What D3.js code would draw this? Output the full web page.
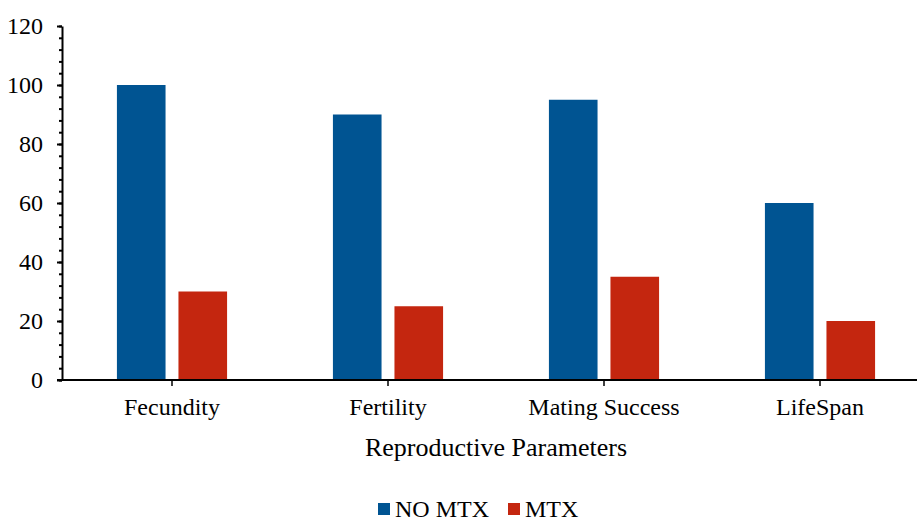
<!DOCTYPE html>
<html>
<head>
<meta charset="utf-8">
<script src="https://cdn.jsdelivr.net/npm/d3@7"></script>
<style>
  body { margin: 0; background: #fff; }
  svg text { font-family: "Liberation Serif", "Times New Roman", serif; fill: #000; }
</style>
</head>
<body>
<svg id="chart" width="917" height="523"></svg>
<script>
// chart data
var categories = ["Fecundity", "Fertility", "Mating Success", "LifeSpan"];
var seriesNames = ["NO MTX", "MTX"];
var noMtx = [100, 90, 95, 60];
var mtx = [30, 25, 35, 20];
var yTicks = [0, 20, 40, 60, 80, 100, 120];

var colors = ["#005492", "#c4260f"];

var svg = d3.select("#chart");
var plotL = 62, plotR = 928, plotT = 26, plotB = 380;

var x0 = d3.scaleBand()
  .domain(categories)
  .range([plotL + 2, plotR])
  .paddingInner(0.49)
  .paddingOuter(0.245);

var x1 = d3.scaleBand()
  .domain(seriesNames)
  .range([0, x0.bandwidth()])
  .paddingInner(0.21);

var y = d3.scaleLinear().domain([0, 120]).range([plotB, plotT]);

var rows = categories.map(function(c, i) {
  return { cat: c, values: [noMtx[i], mtx[i]] };
});

// bars
var groups = svg.selectAll("g.grp")
  .data(rows)
  .enter().append("g")
  .attr("class", "grp")
  .attr("transform", function(d) { return "translate(" + x0(d.cat) + ",0)"; });

groups.selectAll("rect")
  .data(function(d) { return d.values.map(function(v, j) { return { s: seriesNames[j], v: v, j: j }; }); })
  .enter().append("rect")
  .attr("x", function(d) { return x1(d.s); })
  .attr("y", function(d) { return y(d.v); })
  .attr("width", x1.bandwidth())
  .attr("height", function(d) { return plotB - y(d.v); })
  .attr("fill", function(d) { return colors[d.j]; });

// y axis minor ticks
var yMinor = d3.axisLeft(y)
  .tickValues(d3.range(0, 121, 4))
  .tickSize(3)
  .tickFormat("");
svg.append("g")
  .attr("transform", "translate(" + plotL + ",0)")
  .call(yMinor)
  .call(function(g) { g.select(".domain").remove(); })
  .selectAll("line").attr("stroke", "#000").attr("stroke-width", 2);

// y axis major
var yAxis = d3.axisLeft(y)
  .tickValues(yTicks)
  .tickSize(5)
  .tickSizeOuter(0)
  .tickPadding(14);
var yg = svg.append("g")
  .attr("transform", "translate(" + plotL + ",0)")
  .call(yAxis);
yg.select(".domain").attr("stroke", "#000").attr("stroke-width", 2);
yg.selectAll("line").attr("stroke", "#000").attr("stroke-width", 2);
yg.selectAll("text").style("font-size", "24px");

// x axis
var xAxis = d3.axisBottom(x0).tickSize(6).tickSizeOuter(0).tickPadding(12);
var xg = svg.append("g")
  .attr("transform", "translate(0," + plotB + ")")
  .call(xAxis);
xg.select(".domain").attr("stroke", "#000").attr("stroke-width", 2)
  .attr("d", "M" + (plotL - 5) + ",0H" + plotR);
xg.selectAll("line").attr("stroke", "#000").attr("stroke-width", 1.5);
xg.selectAll("text").style("font-size", "24px");

// axis title
svg.append("text")
  .attr("x", 496)
  .attr("y", 456)
  .attr("text-anchor", "middle")
  .style("font-size", "26px")
  .text("Reproductive Parameters");

// legend
var legend = svg.append("g").attr("transform", "translate(378,509)");
var lx = [0, 130];
seriesNames.forEach(function(s, i) {
  legend.append("rect")
    .attr("x", lx[i]).attr("y", -6)
    .attr("width", 12).attr("height", 12)
    .attr("fill", colors[i]);
  legend.append("text")
    .attr("x", lx[i] + 17).attr("y", 8)
    .style("font-size", "24px")
    .text(s);
});
</script>
</body>
</html>
